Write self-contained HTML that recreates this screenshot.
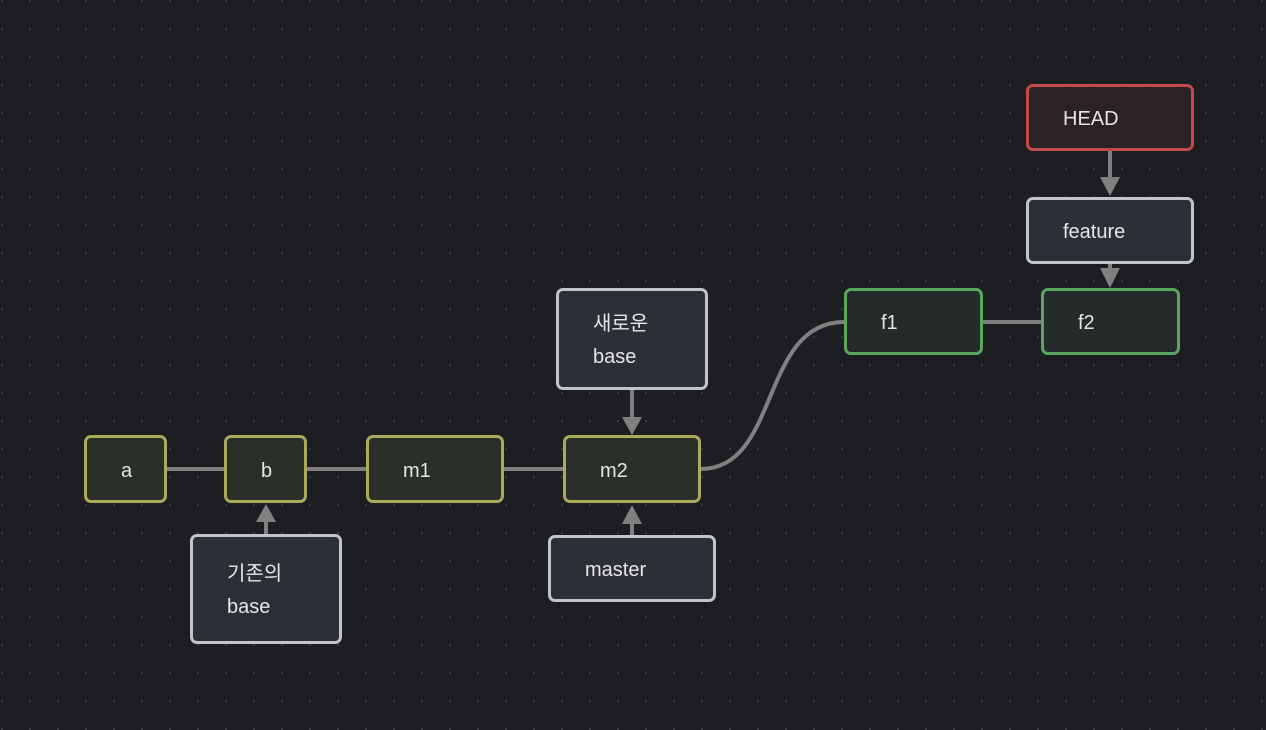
<!DOCTYPE html>
<html><head><meta charset="utf-8"><style>
html,body{margin:0;padding:0}
body{width:1266px;height:730px;overflow:hidden;background:#1c1e22;
background-image:radial-gradient(circle,#3a3d43 1px,transparent 1.3px);background-size:28px 28px;background-position:-12px -13px;
font-family:"Liberation Sans","Noto Sans CJK KR",sans-serif;}
.n{position:absolute;box-sizing:border-box;border:3px solid;border-radius:7px;color:#e6e6e6;font-size:20px;padding-left:34px;padding-top:4px;display:flex;align-items:center;line-height:33px}
.c{background:#2b2f2a;border-color:#aaa95c}
.l{background:#2c2f35;border-color:#c2c4c7}
.g{background:#242b2a;border-color:#5aa65e}
.h{background:#2a2226;border-color:#c24a4a}
svg{position:absolute;left:0;top:0}
</style></head><body>
<svg width="1266" height="730">
<g stroke="#808080" stroke-width="4" fill="none">
<line x1="167" y1="469" x2="224" y2="469"/>
<line x1="307" y1="469" x2="366" y2="469"/>
<line x1="504" y1="469" x2="563" y2="469"/>
<path d="M701 469 C780 469 760 322 844 322"/>
<line x1="983" y1="322" x2="1041" y2="322"/>
<line x1="266" y1="534" x2="266" y2="520"/>
<line x1="632" y1="535" x2="632" y2="522"/>
<line x1="632" y1="390" x2="632" y2="420"/>
<line x1="1110" y1="151" x2="1110" y2="180"/>
<line x1="1110" y1="264" x2="1110" y2="272"/>
</g>
<g fill="#808080">
<polygon points="256,522 276,522 266,504"/>
<polygon points="622,524 642,524 632,505"/>
<polygon points="622,417 642,417 632,435"/>
<polygon points="1100,177 1120,177 1110,196"/>
<polygon points="1100,268 1120,268 1110,288"/>
</g>
</svg>
<div class="n c" style="left:84px;top:435px;width:83px;height:68px">a</div>
<div class="n c" style="left:224px;top:435px;width:83px;height:68px">b</div>
<div class="n c" style="left:366px;top:435px;width:138px;height:68px">m1</div>
<div class="n c" style="left:563px;top:435px;width:138px;height:68px">m2</div>
<div class="n l" style="left:556px;top:288px;width:152px;height:102px">새로운<br>base</div>
<div class="n l" style="left:548px;top:535px;width:168px;height:67px">master</div>
<div class="n l" style="left:190px;top:534px;width:152px;height:110px">기존의<br>base</div>
<div class="n g" style="left:844px;top:288px;width:139px;height:67px">f1</div>
<div class="n g" style="left:1041px;top:288px;width:139px;height:67px">f2</div>
<div class="n h" style="left:1026px;top:84px;width:168px;height:67px">HEAD</div>
<div class="n l" style="left:1026px;top:197px;width:168px;height:67px">feature</div>
</body></html>
